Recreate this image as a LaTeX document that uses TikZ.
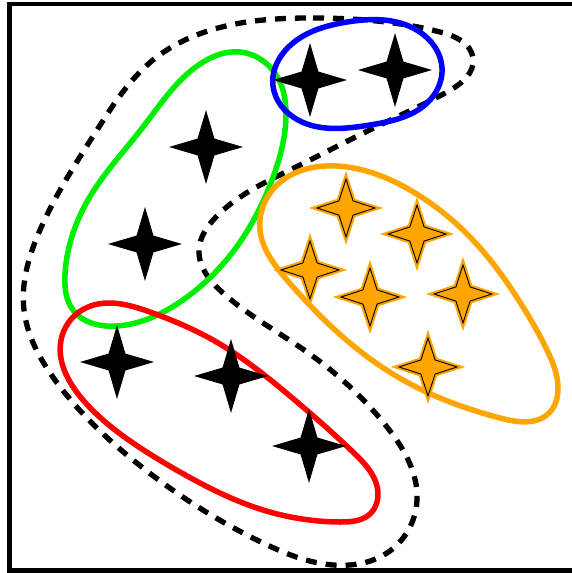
\documentclass[tikz,border=0pt]{standalone}
\usetikzlibrary{shapes.geometric,hobby}
\definecolor{grn}{RGB}{0,238,0}
\definecolor{org}{RGB}{255,165,0}
\tikzset{
  outline/.style={line width=5.5pt, line join=round, use Hobby shortcut, closed=true},
  dashline/.style={line width=5.3pt, dash pattern=on 11pt off 9pt, use Hobby shortcut, closed=true},
  blackstar/.style={shape=star, star points=4, star point ratio=3.1, minimum size=74pt, inner sep=0pt, fill=black},
  orangestar/.style={shape=star, star points=4, star point ratio=2.9, minimum size=58pt, inner sep=0pt, fill=org, draw=black, line width=0.9pt,
     preaction={draw=org, line width=5pt, line join=miter}},
}
\begin{document}
\begin{tikzpicture}[x=1pt,y=-1pt]
\useasboundingbox (0,0) rectangle (572,573);
\clip (0,0) rectangle (572,573);
\fill[white] (0,0) rectangle (572,573);
% frame
\draw[line width=4.3pt] (9.5,4) rectangle (600,570.5);
% dashed outline
\draw[dashline] (313,18) .. (440,32) .. (473,58) .. (447,92) .. (380,125)
 .. (290,170) .. (215,218) .. (199,250) .. (223,293) .. (307,352) .. (387,427)
 .. (417,500) .. (387,553) .. (350,565) .. (263,543) .. (133,460) .. (55,380)
 .. (24,310) .. (40,230) .. (97,130) .. (153,60) .. (247,22);
% green
\draw[outline, draw=grn] (240,52) .. (278,78) .. (286,115) .. (272,180)
 .. (238,245) .. (180,302) .. (117,326) .. (73,310) .. (65,275) .. (88,200)
 .. (143,127) .. (200,64);
% blue
\draw[outline, draw=blue] (273,86) .. (293,43) .. (347,22) .. (413,28)
 .. (442,68) .. (430,100) .. (370,125) .. (298,120);
% red
\draw[outline, draw=red] (62,336) .. (88,307) .. (150,312) .. (213,340)
 .. (290,396) .. (353,452) .. (378,494) .. (371,513) .. (340,522) .. (263,510)
 .. (180,472) .. (133,443) .. (83,400);
% orange
\draw[outline, draw=org] (337,166) .. (275,187) .. (260,230) .. (287,280)
 .. (403,380) .. (500,418) .. (549,413) .. (558,390) .. (547,350) .. (523,307)
 .. (470,237) .. (410,190);
% black stars
\node[blackstar] (s1) at (310,80) {};
\node[blackstar] (s2) at (395,70) {};
\node[blackstar] (s3) at (206,147) {};
\node[blackstar] (s4) at (145,244) {};
\node[blackstar] (s5) at (117,362) {};
\node[blackstar] (s6) at (231,376) {};
\node[blackstar] (s7) at (309,446) {};
% orange stars
\node[orangestar] (o1) at (346,208) {};
\node[orangestar] (o2) at (417,234) {};
\node[orangestar] (o3) at (310,270) {};
\node[orangestar] (o4) at (370,297) {};
\node[orangestar] (o5) at (463,294) {};
\node[orangestar] (o6) at (428,367) {};
\end{tikzpicture}
\end{document}
